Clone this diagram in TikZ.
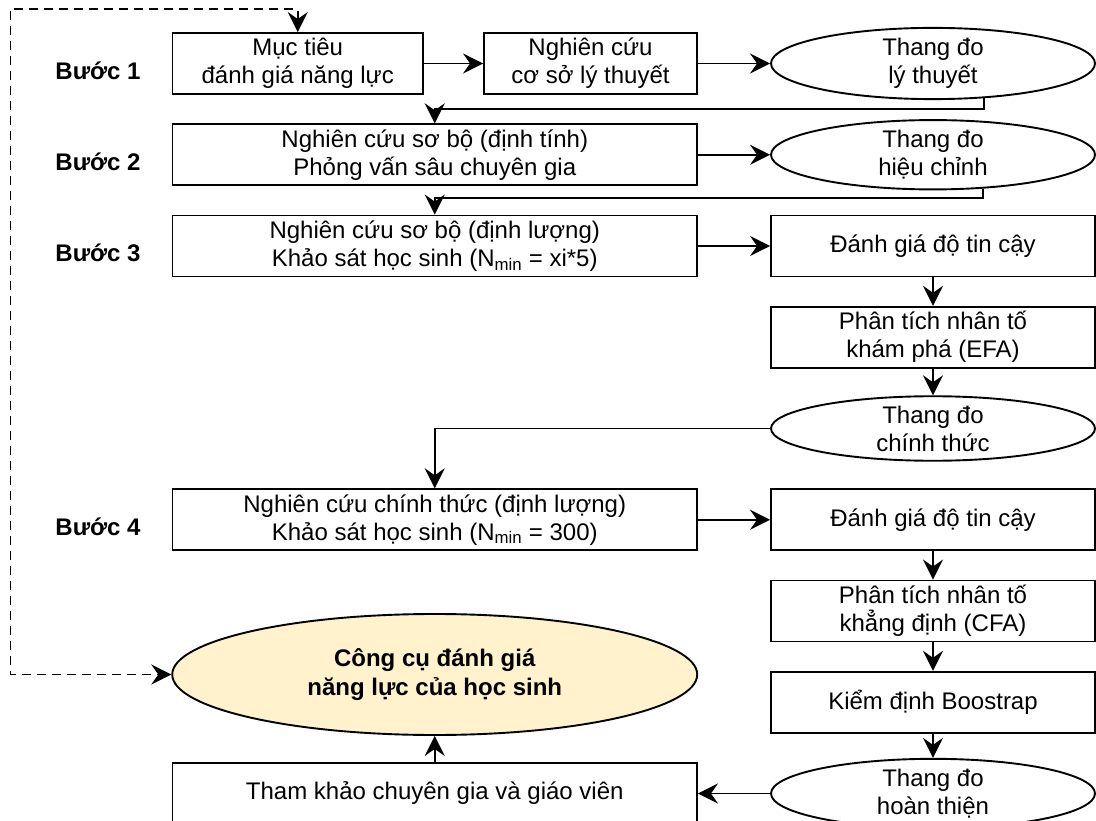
\documentclass[tikz,border=0pt]{standalone}
\usepackage{fontspec}
\setmainfont{Liberation Sans}
\usetikzlibrary{arrows.meta,shapes.geometric}
\definecolor{ylw}{HTML}{FFF2CC}
\begin{document}
\begin{tikzpicture}[x=1pt,y=-1pt,
  >={Stealth[length=20pt,width=20pt,inset=7pt]},
  every node/.style={font=\fontsize{24}{28}\selectfont, align=center, inner sep=0pt, line width=1.9pt},
  box/.style={draw, rectangle, minimum height=61pt},
  oval/.style={draw, ellipse, minimum width=324pt, minimum height=61pt},
  lbl/.style={font=\fontsize{24}{28}\selectfont\bfseries},
  conn/.style={line width=1.9pt, ->},
  dconn/.style={line width=1.9pt, <->, dash pattern=on 9pt off 6pt},
]
\clip (0,0) rectangle (1096,821);

% step labels
\node[lbl] (L1) at (98,70.5) {Bước 1};
\node[lbl] (L2) at (98,161.75) {Bước 2};
\node[lbl] (L3) at (98,253) {Bước 3};
\node[lbl] (L4) at (98,526.75) {Bước 4};

% row 1
\node[box, minimum width=250.5pt] (b1) at (297.75,63.5) {Mục tiêu\\đánh giá năng lực};
\node[box, minimum width=213pt] (b2) at (590.5,63.5) {Nghiên cứu\\cơ sở lý thuyết};
\node[oval] (e1) at (933,63.5) {Thang đo\\lý thuyết};

% row 2
\node[box, minimum width=524.5pt] (r2) at (434.75,154.75) {Nghiên cứu sơ bộ (định tính)\\Phỏng vấn sâu chuyên gia};
\node[oval] (e2) at (933,154.75) {Thang đo\\hiệu chỉnh};

% row 3
\node[box, minimum width=524.5pt] (r3) at (434.75,246) {Nghiên cứu sơ bộ (định lượng)\\Khảo sát học sinh (N\textsubscript{min} = xi*5)};
\node[box, minimum width=324pt] (d3) at (933,246) {Đánh giá độ tin cậy};
\node[box, minimum width=324pt] (efa) at (933,337.25) {Phân tích nhân tố\\khám phá (EFA)};
\node[oval] (e3) at (933,428.5) {Thang đo\\chính thức};

% row 4
\node[box, minimum width=524.5pt] (r4) at (434.75,519.75) {Nghiên cứu chính thức (định lượng)\\Khảo sát học sinh (N\textsubscript{min} = 300)};
\node[box, minimum width=324pt] (d4) at (933,519.75) {Đánh giá độ tin cậy};
\node[box, minimum width=324pt] (cfa) at (933,611) {Phân tích nhân tố\\khẳng định (CFA)};
\node[box, minimum width=324pt] (boot) at (933,702.25) {Kiểm định Boostrap};
\node[oval] (e4) at (933,793.5) {Thang đo\\hoàn thiện};

% result
\node[draw, ellipse, fill=ylw, minimum width=525pt, minimum height=121pt, font=\fontsize{24}{29}\selectfont\bfseries] (yl) at (434.75,674.5) {Công cụ đánh giá\\năng lực của học sinh};
\node[box, minimum width=524.5pt] (tk) at (434.75,793.5) {Tham khảo chuyên gia và giáo viên};

% dashed feedback
\coordinate (dt) at (10.5,9);
\coordinate (db) at (10.5,674.5);

% connectors
\draw[conn] (b1) -- (b2);
\draw[conn] (b2) -- (e1);
\draw[conn] (e1.-34) -- ++(0,11) -| (r2.north);
\draw[conn] (r2) -- (e2);
\draw[conn] (e2.-34) -- ++(0,9) -| (r3.north);
\draw[conn] (r3) -- (d3);
\draw[conn] (d3) -- (efa);
\draw[conn] (efa) -- (e3);
\draw[conn] (e3.west) -| (r4.north);
\draw[conn] (r4) -- (d4);
\draw[conn] (d4) -- (cfa);
\draw[conn] (cfa) -- (boot);
\draw[conn] (boot) -- (e4);
\draw[conn] (e4) -- (tk);
\draw[conn] (tk) -- (yl);
\draw[dconn] (b1.north) -- (b1.north |- dt) -- (dt) -- (db) -- (yl.west);
\end{tikzpicture}
\end{document}
